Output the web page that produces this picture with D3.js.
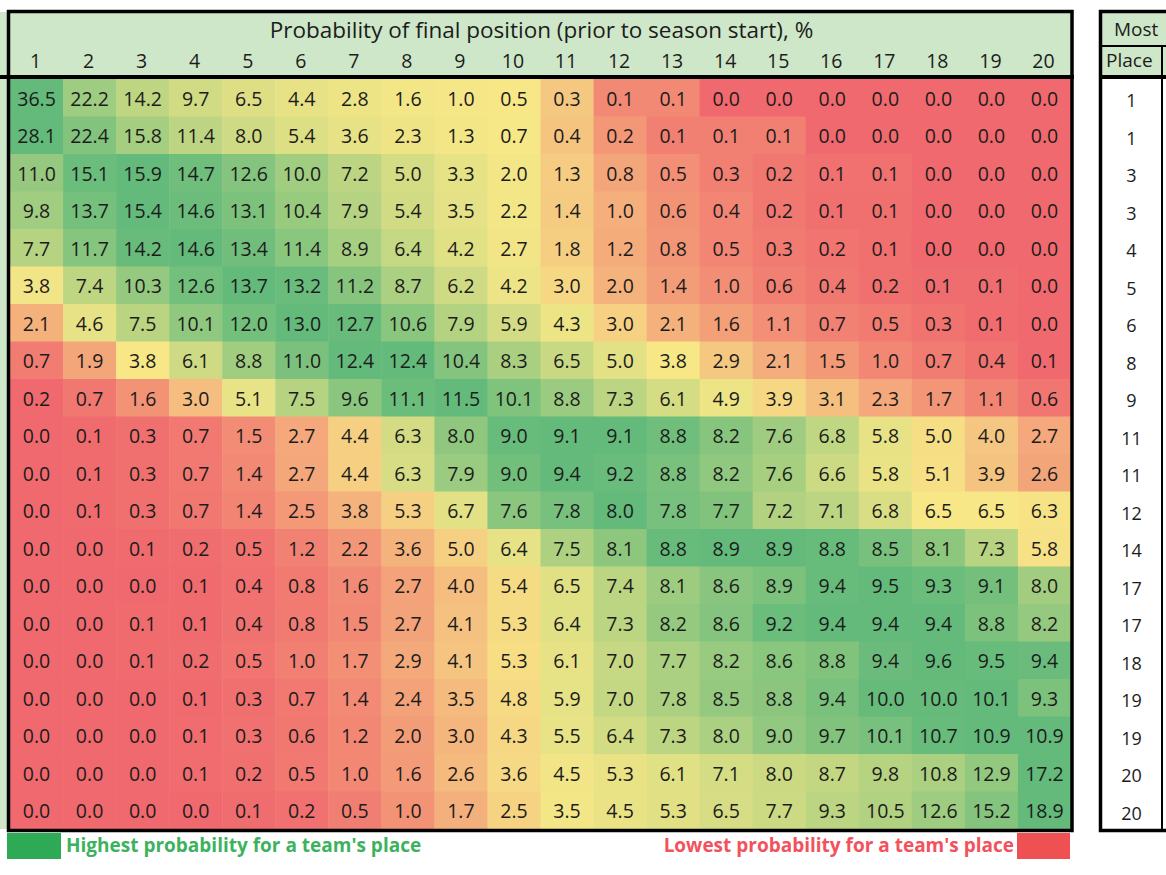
<!DOCTYPE html>
<html>
<head>
<meta charset="utf-8">
<script src="https://cdn.jsdelivr.net/npm/d3@7"></script>
<style>
  html, body { margin: 0; padding: 0; background: #ffffff; }
  svg { display: block; }
  text { font-family: "Open Sans", "Noto Sans", sans-serif; }
</style>
</head>
<body>
<svg id="chart" width="1166" height="875"></svg>
<script>
// ---------- DATA ----------
const title = "Probability of final position (prior to season start), %";
const positions = d3.range(1, 21).map(String);   // column labels 1..20

const probabilityRows = [
  [36.5, 22.2, 14.2, 9.7, 6.5, 4.4, 2.8, 1.6, 1.0, 0.5, 0.3, 0.1, 0.1, 0.0, 0.0, 0.0, 0.0, 0.0, 0.0, 0.0],
  [28.1, 22.4, 15.8, 11.4, 8.0, 5.4, 3.6, 2.3, 1.3, 0.7, 0.4, 0.2, 0.1, 0.1, 0.1, 0.0, 0.0, 0.0, 0.0, 0.0],
  [11.0, 15.1, 15.9, 14.7, 12.6, 10.0, 7.2, 5.0, 3.3, 2.0, 1.3, 0.8, 0.5, 0.3, 0.2, 0.1, 0.1, 0.0, 0.0, 0.0],
  [9.8, 13.7, 15.4, 14.6, 13.1, 10.4, 7.9, 5.4, 3.5, 2.2, 1.4, 1.0, 0.6, 0.4, 0.2, 0.1, 0.1, 0.0, 0.0, 0.0],
  [7.7, 11.7, 14.2, 14.6, 13.4, 11.4, 8.9, 6.4, 4.2, 2.7, 1.8, 1.2, 0.8, 0.5, 0.3, 0.2, 0.1, 0.0, 0.0, 0.0],
  [3.8, 7.4, 10.3, 12.6, 13.7, 13.2, 11.2, 8.7, 6.2, 4.2, 3.0, 2.0, 1.4, 1.0, 0.6, 0.4, 0.2, 0.1, 0.1, 0.0],
  [2.1, 4.6, 7.5, 10.1, 12.0, 13.0, 12.7, 10.6, 7.9, 5.9, 4.3, 3.0, 2.1, 1.6, 1.1, 0.7, 0.5, 0.3, 0.1, 0.0],
  [0.7, 1.9, 3.8, 6.1, 8.8, 11.0, 12.4, 12.4, 10.4, 8.3, 6.5, 5.0, 3.8, 2.9, 2.1, 1.5, 1.0, 0.7, 0.4, 0.1],
  [0.2, 0.7, 1.6, 3.0, 5.1, 7.5, 9.6, 11.1, 11.5, 10.1, 8.8, 7.3, 6.1, 4.9, 3.9, 3.1, 2.3, 1.7, 1.1, 0.6],
  [0.0, 0.1, 0.3, 0.7, 1.5, 2.7, 4.4, 6.3, 8.0, 9.0, 9.1, 9.1, 8.8, 8.2, 7.6, 6.8, 5.8, 5.0, 4.0, 2.7],
  [0.0, 0.1, 0.3, 0.7, 1.4, 2.7, 4.4, 6.3, 7.9, 9.0, 9.4, 9.2, 8.8, 8.2, 7.6, 6.6, 5.8, 5.1, 3.9, 2.6],
  [0.0, 0.1, 0.3, 0.7, 1.4, 2.5, 3.8, 5.3, 6.7, 7.6, 7.8, 8.0, 7.8, 7.7, 7.2, 7.1, 6.8, 6.5, 6.5, 6.3],
  [0.0, 0.0, 0.1, 0.2, 0.5, 1.2, 2.2, 3.6, 5.0, 6.4, 7.5, 8.1, 8.8, 8.9, 8.9, 8.8, 8.5, 8.1, 7.3, 5.8],
  [0.0, 0.0, 0.0, 0.1, 0.4, 0.8, 1.6, 2.7, 4.0, 5.4, 6.5, 7.4, 8.1, 8.6, 8.9, 9.4, 9.5, 9.3, 9.1, 8.0],
  [0.0, 0.0, 0.1, 0.1, 0.4, 0.8, 1.5, 2.7, 4.1, 5.3, 6.4, 7.3, 8.2, 8.6, 9.2, 9.4, 9.4, 9.4, 8.8, 8.2],
  [0.0, 0.0, 0.1, 0.2, 0.5, 1.0, 1.7, 2.9, 4.1, 5.3, 6.1, 7.0, 7.7, 8.2, 8.6, 8.8, 9.4, 9.6, 9.5, 9.4],
  [0.0, 0.0, 0.0, 0.1, 0.3, 0.7, 1.4, 2.4, 3.5, 4.8, 5.9, 7.0, 7.8, 8.5, 8.8, 9.4, 10.0, 10.0, 10.1, 9.3],
  [0.0, 0.0, 0.0, 0.1, 0.3, 0.6, 1.2, 2.0, 3.0, 4.3, 5.5, 6.4, 7.3, 8.0, 9.0, 9.7, 10.1, 10.7, 10.9, 10.9],
  [0.0, 0.0, 0.0, 0.1, 0.2, 0.5, 1.0, 1.6, 2.6, 3.6, 4.5, 5.3, 6.1, 7.1, 8.0, 8.7, 9.8, 10.8, 12.9, 17.2],
  [0.0, 0.0, 0.0, 0.0, 0.1, 0.2, 0.5, 1.0, 1.7, 2.5, 3.5, 4.5, 5.3, 6.5, 7.7, 9.3, 10.5, 12.6, 15.2, 18.9]
];

const mostLikelyPlace = [1, 1, 3, 3, 4, 5, 6, 8, 9, 11, 11, 12, 14, 17, 17, 18, 19, 19, 20, 20];
const sideHeader = ["Most", "Place"];
const legendLabels = ["Highest probability for a team's place", "Lowest probability for a team's place"];

// ---------- STYLE ----------
const headerFill = "#cee7c8";
const lowColor = "#f0696e", midColor = "#f7e787", highColor = "#63ba7b";
const textColor = "#1c1c1c";

const svg = d3.select("#chart");
svg.append("rect").attr("width", 1166).attr("height", 875).attr("fill", "#ffffff");

const L = 10, R = 1071, headTop = 12, headBottom = 77, bodyTop = 79, bodyBottom = 829;

const x = d3.scaleBand().domain(positions).range([L, R]);
const y = d3.scaleBand().domain(d3.range(probabilityRows.length)).range([bodyTop, bodyBottom]);

// left remnant of a neighbouring table
svg.append("rect").attr("x", 0).attr("y", headTop).attr("width", 7).attr("height", bodyBottom - headTop).attr("fill", headerFill);
svg.append("line").attr("x1", 0).attr("x2", 8).attr("y1", 77).attr("y2", 77).attr("stroke", "#000").attr("stroke-width", 4);

// header
svg.append("rect").attr("x", L).attr("y", headTop).attr("width", R - L).attr("height", headBottom - headTop).attr("fill", headerFill);
svg.append("text").attr("x", (L + R) / 2 + 1).attr("y", 29).attr("text-anchor", "middle")
  .attr("dominant-baseline", "central").attr("font-size", 22.5).attr("fill", textColor).text(title);
svg.append("g").selectAll("text").data(positions).join("text")
  .attr("x", d => x(d) + x.bandwidth() / 2 - 1).attr("y", 60)
  .attr("text-anchor", "middle").attr("dominant-baseline", "central")
  .attr("font-size", 19.5).attr("fill", textColor).text(d => d);

// cells (per-row 3-colour scale: min -> red, median -> yellow, max -> green)
const rowsG = svg.append("g");
probabilityRows.forEach((row, i) => {
  const mn = d3.min(row), mx = d3.max(row), md = d3.quantile(row.slice().sort(d3.ascending), 0.5);
  const color = d3.scaleLinear().domain([mn, md, mx]).range([lowColor, midColor, highColor]).interpolate(d3.interpolateRgb);
  const g = rowsG.append("g");
  g.selectAll("rect").data(row).join("rect")
    .attr("x", (d, j) => x(positions[j])).attr("y", y(i))
    .attr("width", x.bandwidth() + 0.5).attr("height", y.bandwidth() + 0.5)
    .attr("fill", d => color(d));
  g.selectAll("text").data(row).join("text")
    .attr("x", (d, j) => x(positions[j]) + x.bandwidth() / 2).attr("y", y(i) + y.bandwidth() / 2 + 0.5)
    .attr("text-anchor", "middle").attr("dominant-baseline", "central")
    .attr("font-size", 19.5).attr("fill", textColor).text(d => d.toFixed(1));
});

// header separator + outer border
svg.append("line").attr("x1", L - 3).attr("x2", R + 3).attr("y1", 77).attr("y2", 77).attr("stroke", "#000").attr("stroke-width", 4);
svg.append("rect").attr("x", 8.5).attr("y", 11.5).attr("width", 1063.5).attr("height", 819)
  .attr("fill", "none").attr("stroke", "#000").attr("stroke-width", 3.5);

// right-hand table (cut off by the frame)
const SL = 1101, SR = 1162;
svg.append("rect").attr("x", SL).attr("y", 12).attr("width", 120).attr("height", 65).attr("fill", headerFill);
svg.append("line").attr("x1", SL).attr("x2", 1166).attr("y1", 46).attr("y2", 46).attr("stroke", "#000").attr("stroke-width", 2);
svg.append("line").attr("x1", SL).attr("x2", 1166).attr("y1", 77).attr("y2", 77).attr("stroke", "#000").attr("stroke-width", 4);
svg.append("line").attr("x1", SR).attr("x2", SR).attr("y1", 46).attr("y2", 830).attr("stroke", "#000").attr("stroke-width", 2);
svg.append("rect").attr("x", SL - 0.5).attr("y", 11.5).attr("width", 200).attr("height", 819)
  .attr("fill", "none").attr("stroke", "#000").attr("stroke-width", 3.5);
svg.append("text").attr("x", 1114).attr("y", 29).attr("dominant-baseline", "central")
  .attr("font-size", 19).attr("fill", textColor).text(sideHeader[0]);
svg.append("text").attr("x", SL + 5).attr("y", 60).attr("dominant-baseline", "central")
  .attr("font-size", 19).attr("fill", textColor).text(sideHeader[1]);
svg.append("g").selectAll("text").data(mostLikelyPlace).join("text")
  .attr("x", (SL + SR) / 2).attr("y", (d, i) => y(i) + y.bandwidth() / 2 + 2.5)
  .attr("text-anchor", "middle").attr("dominant-baseline", "central")
  .attr("font-size", 18).attr("fill", textColor).text(d => d);

// legend
svg.append("rect").attr("x", 7).attr("y", 833).attr("width", 54).attr("height", 26).attr("fill", "#2eaa57");
svg.append("text").attr("x", 66).attr("y", 845).attr("dominant-baseline", "central")
  .attr("font-size", 19).attr("font-weight", 700).attr("fill", "#3db25e").text(legendLabels[0]);
svg.append("rect").attr("x", 1017).attr("y", 833).attr("width", 53).attr("height", 26).attr("fill", "#ef5153");
svg.append("text").attr("x", 1014).attr("y", 845).attr("text-anchor", "end").attr("dominant-baseline", "central")
  .attr("font-size", 19).attr("font-weight", 700).attr("fill", "#f2525c").text(legendLabels[1]);
</script>
</body>
</html>
